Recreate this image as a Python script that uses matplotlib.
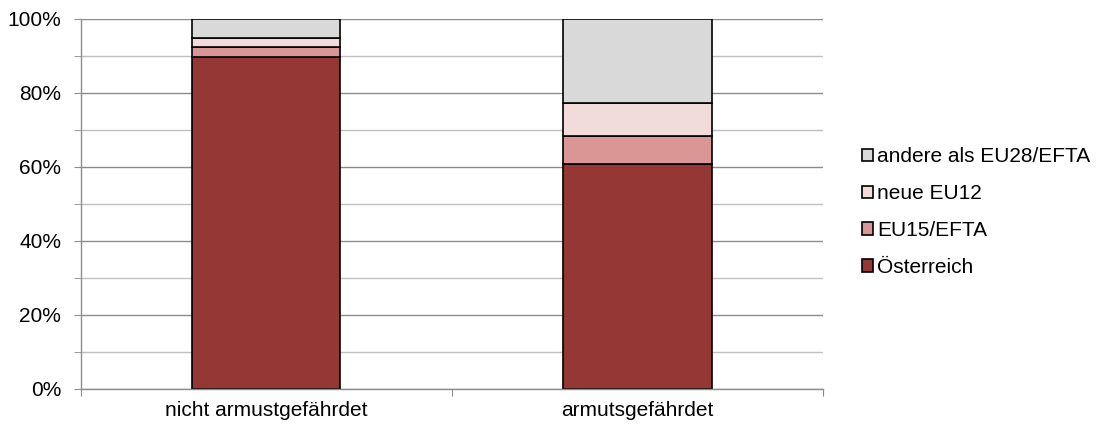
import matplotlib
matplotlib.use("Agg")
import matplotlib.pyplot as plt
import matplotlib.ticker as mticker
import numpy as np

plt.rcParams["font.family"] = ["Liberation Sans", "DejaVu Sans"]

categories = ["nicht armustgefährdet", "armutsgefährdet"]
series = ["Österreich", "EU15/EFTA", "neue EU12", "andere als EU28/EFTA"]
oesterreich = [89.6, 60.9]
eu15_efta = [2.9, 7.4]
neue_eu12 = [2.5, 9.0]
andere = [5.0, 22.7]
values = [oesterreich, eu15_efta, neue_eu12, andere]
colors = ["#953735", "#D99694", "#F2DCDB", "#D9D9D9"]

fig = plt.figure(figsize=(11.09, 4.25), dpi=100)
ax = fig.add_axes([80.5 / 1109, (425 - 389) / 425, (823 - 80.5) / 1109, (389 - 19) / 425])

x = np.arange(len(categories))
bottom = np.zeros(len(categories))
handles = []
for name, vals, col in zip(series, values, colors):
    b = ax.bar(x, vals, 0.4, bottom=bottom, color=col, edgecolor="black",
               linewidth=1.2, label=name, zorder=3)
    bottom += np.array(vals)
    handles.append(b)

ax.set_xlim(-0.5, 1.5)
ax.set_ylim(0, 100)
ax.yaxis.set_major_locator(mticker.MultipleLocator(20))
ax.yaxis.set_minor_locator(mticker.MultipleLocator(10))
ax.yaxis.set_major_formatter(mticker.FuncFormatter(lambda v, _: f"{v:.0f}%"))
ax.grid(axis="y", which="major", color="#8c8c8c", linewidth=1, zorder=0)
ax.grid(axis="y", which="minor", color="#c0c0c0", linewidth=1, zorder=0)

# category boundaries as ticks, labels centred under the bars
ax.set_xticks([-0.5, 0.5, 1.5])
ax.set_xticklabels([])
ax.set_xticks(x, minor=True)
ax.set_xticklabels(categories, minor=True, fontsize=15)
ax.tick_params(axis="x", which="major", direction="out", length=5, color="#8c8c8c")
ax.tick_params(axis="x", which="minor", length=0, pad=9)
ax.tick_params(axis="y", which="both", direction="out", length=5, color="#8c8c8c",
               labelsize=15, pad=9)

for s in ["top", "right"]:
    ax.spines[s].set_visible(False)
for s in ["left", "bottom"]:
    ax.spines[s].set_color("#8c8c8c")
    ax.spines[s].set_linewidth(1)
    ax.spines[s].set_zorder(4)

leg = fig.legend(handles[::-1], series[::-1], loc="center left",
                 bbox_to_anchor=(862 / 1109, (425 - 212) / 425), frameon=False,
                 fontsize=15, handlelength=0.53, handleheight=0.53,
                 handletextpad=0.2, labelspacing=0.86, borderpad=0,
                 borderaxespad=0)

fig.savefig("out.png", dpi=100)
